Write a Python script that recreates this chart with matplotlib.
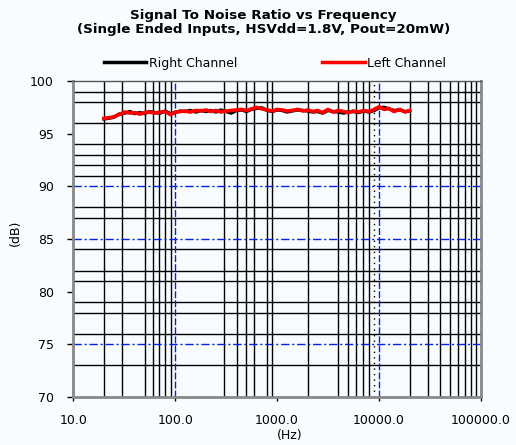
import matplotlib
matplotlib.use("Agg")
import matplotlib.pyplot as plt
from matplotlib.lines import Line2D

# frequency points (Hz)
freq = [20, 22, 25, 28, 32, 36, 40, 45, 50, 56, 63, 71, 80, 90, 100, 112, 125, 140,
        160, 180, 200, 224, 250, 280, 315, 355, 400, 450, 500, 560, 630, 710, 800, 900,
        1000, 1120, 1250, 1400, 1600, 1800, 2000, 2240, 2500, 2800, 3150, 3550, 4000,
        4500, 5000, 5600, 6300, 7100, 8000, 9000, 10000, 11200, 12500, 14000, 16000,
        18000, 20000]

left_snr = [96.45, 96.5, 96.6, 96.8, 97.05, 96.95, 97.0, 96.85, 97.0, 97.05, 96.95,
            97.05, 97.1, 96.8, 97.05, 97.1, 97.15, 97.05, 97.2, 97.15, 97.25, 97.1,
            97.2, 97.05, 97.15, 97.2, 97.25, 97.3, 97.2, 97.35, 97.5, 97.35, 97.25,
            97.15, 97.3, 97.25, 97.15, 97.2, 97.3, 97.15, 97.25, 97.1, 97.2, 97.0,
            97.3, 97.05, 97.2, 97.1, 97.0, 97.15, 97.05, 97.2, 97.1, 97.3, 97.55,
            97.3, 97.4, 97.1, 97.3, 97.05, 97.2]

right_snr = [96.4, 96.45, 96.55, 96.85, 96.95, 97.1, 96.9, 97.0, 96.9, 97.1, 97.0,
             96.95, 97.15, 96.9, 97.0, 97.15, 97.1, 97.2, 97.05, 97.2, 97.1, 97.2,
             97.05, 97.25, 97.1, 96.95, 97.2, 97.25, 97.1, 97.3, 97.4, 97.45, 97.2,
             97.1, 97.25, 97.2, 97.05, 97.15, 97.25, 97.2, 97.15, 97.05, 97.1, 96.95,
             97.2, 97.1, 97.05, 96.95, 97.05, 97.1, 97.0, 97.15, 97.05, 97.2, 97.45,
             97.5, 97.35, 97.2, 97.25, 97.1, 97.15]

x_ticks = [10, 100, 1000, 10000, 100000]
x_tick_labels = ["10.0", "100.0", "1000.0", "10000.0", "100000.0"]
y_ticks = [70, 75, 80, 85, 90, 95, 100]

# gridlines as they show in the picture
x_grid_black = [20, 30, 50, 60, 70, 80, 90, 300, 400, 500, 600, 800, 900,
                2000, 4000, 5000, 6000, 7000, 8000,
                20000, 30000, 40000, 50000, 60000, 70000, 80000, 90000]
x_grid_blue = [100, 10000]
x_grid_dotted = [9000]
y_grid_black = [99, 98, 96, 94, 93, 92, 91, 88, 87, 84, 82, 81, 79, 78, 76, 73]
y_grid_blue = [90, 85, 75]

bg = "#f8fcff"
plt.rcParams["font.family"] = ["DejaVu Sans"]

fig = plt.figure(figsize=(5.16, 4.45), dpi=100, facecolor=bg)
ax = fig.add_axes([0.142, 0.108, 0.790, 0.710])
ax.set_facecolor(bg)
ax.set_xscale("log")
ax.set_xlim(10, 100000)
ax.set_ylim(70, 100)

for v in y_grid_black:
    ax.axhline(v, color="black", lw=1.0, zorder=1)
for v in x_grid_black:
    ax.axvline(v, color="black", lw=1.0, zorder=1)
for v in x_grid_dotted:
    ax.axvline(v, color="black", lw=1.0, ls=(0, (1, 3)), zorder=1)
for v in y_grid_blue:
    ax.axhline(v, color="#0022ee", lw=1.0, ls=(0, (6, 2, 1.5, 2)), zorder=1)
for v in x_grid_blue:
    ax.axvline(v, color="#0022ee", lw=1.0, ls=(0, (5, 1.5)), zorder=1)

ax.plot(freq, right_snr, color="black", lw=2.4, zorder=3)
ax.plot(freq, left_snr, color="#ff0000", lw=2.6, zorder=4)

ax.set_xticks(x_ticks)
ax.set_xticklabels(x_tick_labels)
ax.xaxis.set_minor_locator(matplotlib.ticker.NullLocator())
ax.set_yticks(y_ticks)
ax.tick_params(axis="y", length=4, width=1, pad=10, labelsize=9)
ax.tick_params(axis="x", length=3, width=1, pad=9, labelsize=9)

for side in ["left", "bottom", "right"]:
    ax.spines[side].set_color("#888888")
    ax.spines[side].set_linewidth(2)
ax.spines["top"].set_color("#555555")
ax.spines["top"].set_linewidth(1)

ax.set_xlabel("(Hz)", fontsize=9)
ax.xaxis.set_label_coords(0.53, -0.1)
ax.set_ylabel("(dB)", fontsize=9)
ax.yaxis.set_label_coords(-0.125, 0.52)

fig.suptitle("Signal To Noise Ratio vs Frequency\n(Single Ended Inputs, HSVdd=1.8V, Pout=20mW)",
             fontsize=9.7, fontweight="bold", y=0.98, x=0.51, linespacing=1.15)

handles = [Line2D([], [], color="black", lw=2.5), Line2D([], [], color="#ff0000", lw=2.5)]
ax.legend(handles, ["Right Channel", "Left Channel"], ncol=2, frameon=False,
          loc="lower center", bbox_to_anchor=(0.495, 1.0), fontsize=9,
          handlelength=3.4, handletextpad=0.2, columnspacing=6.8)

fig.savefig("out.png", dpi=100, facecolor=bg)
